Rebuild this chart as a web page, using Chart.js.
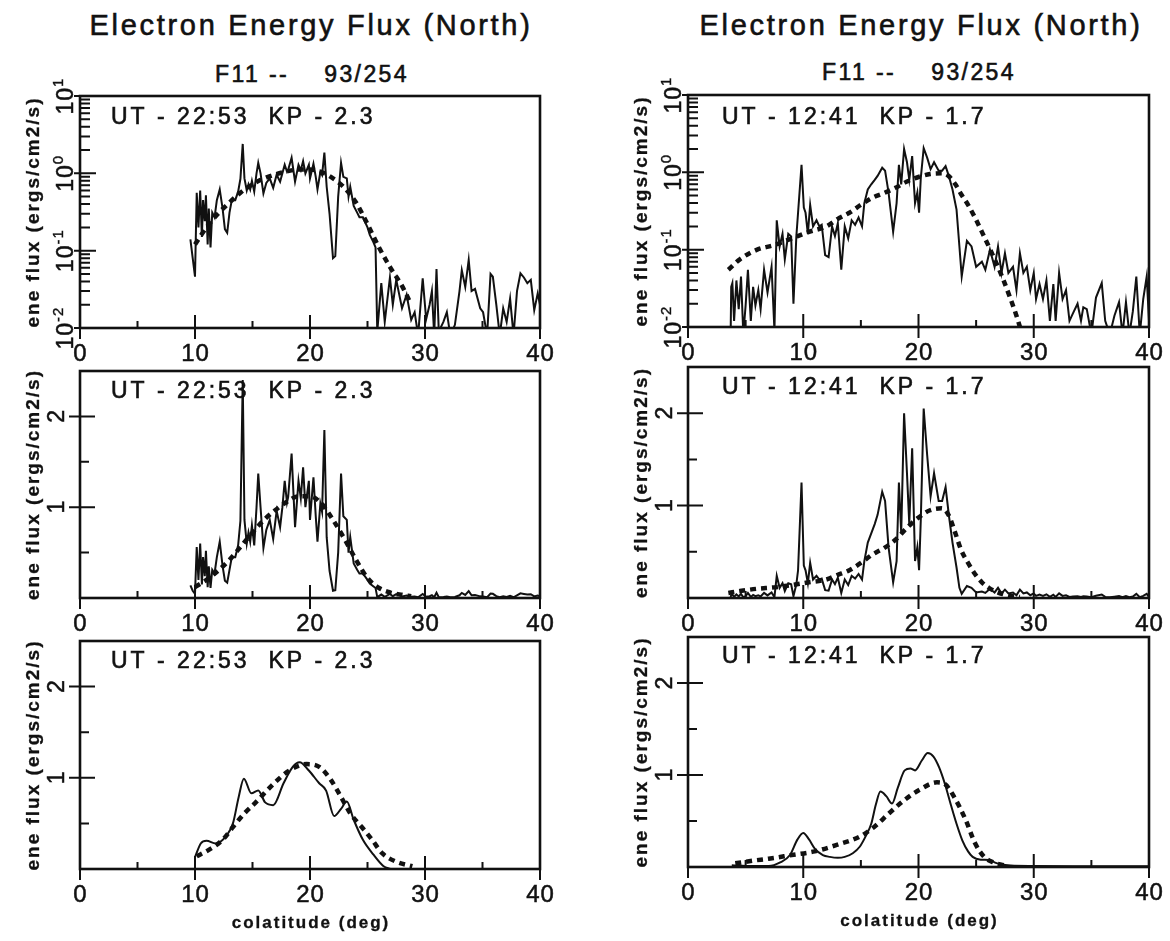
<!DOCTYPE html>
<html>
<head>
<meta charset="utf-8">
<script src="https://cdn.jsdelivr.net/npm/chart.js@4.4.0/dist/chart.umd.min.js"></script>
<style>
body { margin: 0; background: #fff; }
#page { position: relative; width: 1170px; height: 941px; overflow: hidden; }
#page canvas { position: absolute; left: 0; top: 0; }
.ttl { position: absolute; transform: translate(-50%, -50%); white-space: pre; font-family: 'Liberation Sans', Arial, sans-serif; color: #111; -webkit-text-stroke: 0.6px #111; }
.main { font-size: 29px; letter-spacing: 2.7px; }
.sub { font-size: 23px; letter-spacing: 2.4px; }
</style>
</head>
<body>
<div id="page">
  <div class="ttl main" style="left:311px;top:25px">Electron Energy Flux (North)</div>
  <div class="ttl main" style="left:921px;top:25px">Electron Energy Flux (North)</div>
  <div class="ttl sub" style="left:312px;top:74px">F11 --    93/254</div>
  <div class="ttl sub" style="left:919px;top:72px">F11 --    93/254</div>
</div>
<script>
// axis ticks
const xTicks = [0, 10, 20, 30, 40];
const xTickLabels = ['0', '10', '20', '30', '40'];
const xMinor = [5, 15, 25, 35];
const logTicks = [0.01, 0.1, 1, 10];
const logTickExp = ['-2', '-1', '0', '1'];
const linTicks = [1, 2];
const linTickLabels = ['1', '2'];
const linMinor = [0.5, 1.5];

// 22:53 pass - measured flux (top and middle panels)
const leftColat = [9.6, 9.8, 10.0, 10.15, 10.3, 10.45, 10.6, 10.7, 10.85, 10.95, 11.1, 11.2, 11.35, 11.5, 11.7, 11.9,
  12.15, 12.4, 12.6, 12.8, 13.0, 13.2, 13.5, 13.75, 13.95, 14.15, 14.3, 14.5, 14.65, 14.8, 14.95, 15.15, 15.35, 15.5,
  15.7, 15.95, 16.2, 16.5, 16.8, 17.1, 17.4, 17.6, 17.8, 18.0, 18.1, 18.4, 18.7, 19.0, 19.2, 19.4, 19.6, 19.9, 20.0,
  20.3, 20.5, 20.65, 20.9, 21.05, 21.25, 21.45, 21.7, 22.0, 22.2, 22.45, 22.7, 22.9, 23.2, 23.35, 23.5, 23.8, 24.1,
  24.3, 24.6, 25.0, 25.2, 25.5, 25.7, 25.85, 26.2, 26.5, 26.95, 27.2, 27.5, 28.0, 28.4, 28.8, 29.1, 29.4, 29.8, 30.1,
  30.4, 30.6, 30.8, 31.0, 31.2, 31.6, 31.9, 32.2, 32.6, 33.0, 33.2, 33.5, 33.8, 34.05, 34.35, 34.8, 35.05, 35.4, 35.7,
  35.9, 36.2, 36.5, 36.8, 37.1, 37.4, 37.7, 38.0, 38.3, 38.6, 38.9, 39.2, 39.5, 39.8, 40.0];
const leftFlux = [0.14, 0.08, 0.046, 0.56, 0.2, 0.6, 0.15, 0.45, 0.24, 0.52, 0.12, 0.35, 0.11, 0.31, 0.27, 0.45,
  0.62, 0.35, 0.19, 0.17, 0.31, 0.45, 0.45, 0.58, 0.85, 2.4, 0.86, 0.6, 0.72, 0.62, 0.8, 0.58, 1.0, 1.37,
  1.0, 0.55, 0.75, 0.86, 0.65, 0.96, 0.78, 1.0, 1.29, 1.05, 1.11, 1.59, 0.78, 1.29, 1.1, 1.44, 1.0, 1.29, 0.86,
  1.33, 0.9, 0.62, 1.04, 0.95, 1.85, 0.67, 0.3, 0.08, 0.085, 0.5, 1.37, 0.9, 0.86, 0.5, 0.67, 0.38, 0.31,
  0.27, 0.27, 0.2, 0.16, 0.13, 0.11, 0.009, 0.038, 0.012, 0.045, 0.02, 0.042, 0.018, 0.027, 0.0127, 0.016, 0.008, 0.044, 0.013,
  0.02, 0.03, 0.008, 0.058, 0.009, 0.012, 0.016, 0.008, 0.011, 0.03, 0.056, 0.034, 0.076, 0.03, 0.032, 0.018, 0.016, 0.008, 0.05,
  0.046, 0.02, 0.008, 0.018, 0.012, 0.024, 0.008, 0.03, 0.051, 0.045, 0.038, 0.042, 0.017, 0.028, 0.02];
const leftFitColat = [10, 11, 12, 13, 14, 15, 16, 17, 18, 19, 20, 21, 22, 23, 24, 25, 26, 27, 28, 28.8];
const leftFitFlux = [0.12, 0.2, 0.3, 0.42, 0.57, 0.72, 0.86, 0.97, 1.06, 1.12, 1.12, 1.04, 0.86, 0.65, 0.42, 0.22,
  0.11, 0.06, 0.035, 0.02];

// 22:53 pass - smoothed (bottom panel)
const leftSmoothColat = [10.0, 10.5, 11.0, 11.8, 12.7, 13.3, 13.8, 14.25, 14.9, 15.5, 16.1, 16.8, 17.7, 18.5, 19.1,
  19.9, 20.8, 21.4, 22.1, 22.7, 23.2, 23.8, 24.6, 25.5, 26.4, 27.0];
const leftSmoothFlux = [0.13, 0.28, 0.31, 0.28, 0.36, 0.5, 0.79, 0.99, 0.83, 0.86, 0.73, 0.7, 0.94, 1.12, 1.17,
  1.08, 0.94, 0.86, 0.58, 0.66, 0.74, 0.54, 0.32, 0.16, 0.03, 0.0];
const leftSmoothFitColat = [10.15, 11.2, 12.4, 13.3, 14.3, 15.2, 16.8, 18.2, 19.7, 20.8, 21.8, 22.7, 23.5, 24.5, 25.4,
  26.3, 27.5, 28.9];
const leftSmoothFitFlux = [0.14, 0.21, 0.32, 0.46, 0.61, 0.72, 0.93, 1.08, 1.15, 1.12, 0.98, 0.79, 0.61, 0.46, 0.32,
  0.17, 0.08, 0.03];

// 12:41 pass - measured flux (top and middle panels)
const rightColat = [3.7, 3.75, 3.85, 4.0, 4.2, 4.4, 4.6, 4.8, 5.0, 5.2, 5.45, 5.65, 5.85, 6.1, 6.3, 6.6, 6.9, 7.25,
  7.5, 7.7, 7.95, 8.2, 8.4, 8.7, 8.95, 9.15, 9.4, 9.55, 9.85, 10.05, 10.2, 10.4, 10.6, 10.85, 11.15, 11.4, 11.6, 11.9,
  12.2, 12.5, 12.75, 13.0, 13.3, 13.6, 13.9, 14.2, 14.5, 14.8, 15.1, 15.3, 15.6, 15.9, 16.2, 16.45, 16.85, 17.1, 17.4,
  17.8, 18.1, 18.3, 18.5, 18.75, 19.0, 19.2, 19.45, 19.7, 19.9, 20.05, 20.2, 20.45, 20.75, 21.05, 21.35, 21.75, 22.05,
  22.35, 22.65, 22.95, 23.3, 23.55, 23.75, 24.2, 24.6, 25.0, 25.5, 25.8, 26.2, 26.6, 26.9, 27.2, 27.5, 27.8, 28.2,
  28.5, 28.8, 29.1, 29.4, 29.7, 30.0, 30.2, 30.5, 30.8, 31.1, 31.4, 31.7, 31.9, 32.2, 32.5, 32.8, 33.1, 33.4, 33.8,
  34.1, 34.3, 34.6, 35.0, 35.4, 35.9, 36.2, 36.6, 37.0, 37.4, 37.7, 38.0, 38.3, 38.6, 38.9, 39.2, 39.5, 39.8, 40.0];
const rightFlux = [0.008, 0.033, 0.037, 0.012, 0.04, 0.017, 0.045, 0.008, 0.019, 0.055, 0.012, 0.033, 0.019, 0.03, 0.017, 0.055, 0.028, 0.06,
  0.009, 0.24, 0.11, 0.16, 0.075, 0.16, 0.148, 0.02, 0.148, 0.3, 1.25, 0.35, 0.3, 0.16, 0.38, 0.2, 0.24, 0.2, 0.21, 0.085,
  0.08, 0.2, 0.15, 0.22, 0.055, 0.2, 0.14, 0.24, 0.21, 0.26, 0.2, 0.4, 0.6, 0.7, 0.8, 0.9, 1.15, 1.05, 0.55,
  0.17, 0.4, 1.25, 0.7, 2.0, 1.35, 0.8, 1.62, 0.4, 0.55, 0.3, 0.85, 2.05, 1.55, 1.1, 1.35, 1.05, 1.05,
  1.2, 0.88, 0.6, 0.33, 0.11, 0.045, 0.13, 0.11, 0.06, 0.07, 0.055, 0.1, 0.06, 0.11, 0.05, 0.09, 0.05, 0.06,
  0.03, 0.09, 0.05, 0.06, 0.03, 0.05, 0.023, 0.036, 0.023, 0.04, 0.012, 0.036, 0.012, 0.05, 0.023, 0.03, 0.012, 0.015, 0.02,
  0.012, 0.018, 0.017, 0.008, 0.024, 0.037, 0.012, 0.008, 0.014, 0.021, 0.008, 0.021, 0.008, 0.016, 0.045, 0.008, 0.023, 0.045, 0.012];
const rightFitColat = [3.5, 4.5, 6, 7.5, 9, 10.5, 12, 13, 14, 15, 16, 17, 18, 19, 20, 21, 22, 22.6, 23.2, 23.7, 24.3,
  24.9, 25.5, 26.1, 26.7, 27.3, 27.9, 28.5, 28.8];
const rightFitFlux = [0.055, 0.075, 0.1, 0.115, 0.14, 0.17, 0.2, 0.25, 0.3, 0.38, 0.47, 0.54, 0.63, 0.76, 0.87, 0.95,
  0.97, 0.9, 0.7, 0.52, 0.38, 0.26, 0.17, 0.11, 0.07, 0.043, 0.025, 0.014, 0.01];

// 12:41 pass - smoothed (bottom panel)
const rightSmoothColat = [3.8, 5.5, 7.0, 8.0, 8.85, 9.5, 10.0, 10.5, 11.0, 11.7, 12.3, 13.0, 13.6, 14.3, 14.9, 15.4,
  15.9, 16.3, 16.7, 17.2, 17.7, 18.2, 18.8, 19.3, 19.7, 20.3, 20.8, 21.3, 21.8, 22.3, 22.8, 23.3, 23.8, 24.3, 24.7,
  25.4, 26.1, 26.6, 27.1, 28, 30, 35, 40];
const rightSmoothFlux = [0.02, 0.01, 0.01, 0.05, 0.13, 0.3, 0.37, 0.3, 0.2, 0.13, 0.11, 0.1, 0.11, 0.15, 0.22, 0.33,
  0.47, 0.68, 0.82, 0.77, 0.69, 0.86, 1.05, 1.07, 1.05, 1.16, 1.24, 1.2, 1.08, 0.9, 0.68, 0.47, 0.29, 0.17, 0.11,
  0.08, 0.075, 0.05, 0.03, 0.015, 0.01, 0.008, 0.008];
const rightSmoothFitColat = [4.1, 5.7, 7.0, 9.0, 11.0, 12.9, 14.9, 16.2, 17.5, 18.8, 20.1, 21.6, 22.3, 23.1, 24.1,
  24.9, 25.7, 26.5, 27.4];
const rightSmoothFitFlux = [0.04, 0.07, 0.09, 0.13, 0.17, 0.24, 0.33, 0.44, 0.59, 0.73, 0.84, 0.92, 0.9, 0.76, 0.51,
  0.26, 0.11, 0.05, 0.02];

const noteLeft = 'UT - 22:53  KP - 2.3';
const noteRight = 'UT - 12:41  KP - 1.7';

const FONT = "'Liberation Sans', Arial, sans-serif";
const INK = '#111';

const panels = [
  { box: [80, 96, 540, 328], log: true, x: leftColat, y: leftFlux, fx: leftFitColat, fy: leftFitFlux, note: noteLeft, nx: 31, ny: 22 },
  { box: [80, 371, 540, 598], log: false, x: leftColat, y: leftFlux, fx: leftFitColat, fy: leftFitFlux, note: noteLeft, nx: 31, ny: 21 },
  { box: [80, 641, 540, 869], log: false, smooth: true, x: leftSmoothColat, y: leftSmoothFlux, fx: leftSmoothFitColat, fy: leftSmoothFitFlux, note: noteLeft, nx: 31, ny: 21, xTitle: true },
  { box: [688, 95, 1149, 327], log: true, x: rightColat, y: rightFlux, fx: rightFitColat, fy: rightFitFlux, note: noteRight, nx: 34, ny: 23 },
  { box: [688, 367, 1149, 598], log: false, x: rightColat, y: rightFlux, fx: rightFitColat, fy: rightFitFlux, note: noteRight, nx: 34, ny: 21 },
  { box: [688, 637, 1149, 867], log: false, smooth: true, x: rightSmoothColat, y: rightSmoothFlux, fx: rightSmoothFitColat, fy: rightSmoothFitFlux, note: noteRight, nx: 34, ny: 20, xTitle: true }
];

function toPoints(xs, ys) {
  return xs.map((x, i) => ({ x: x, y: ys[i] }));
}

// filled text with a thin outline, closer to the scanned weight
function inkText(ctx, text, x, y, weight) {
  ctx.fillText(text, x, y);
  ctx.lineWidth = weight === undefined ? 0.6 : weight;
  ctx.strokeText(text, x, y);
}

// rotated text, reading upwards, baseline on the right
function rotText(ctx, text, x, y, font, spacing, weight) {
  ctx.save();
  ctx.translate(x, y);
  ctx.rotate(-Math.PI / 2);
  ctx.font = font;
  ctx.letterSpacing = spacing || '0px';
  ctx.textAlign = 'center';
  inkText(ctx, text, 0, 0, weight);
  ctx.restore();
}

// box, inside ticks, labels and notes of one panel
function drawFrame(chart, p) {
  const ctx = chart.ctx, a = chart.chartArea;
  const xs = chart.scales.x, ys = chart.scales.y;
  ctx.save();
  ctx.strokeStyle = INK;
  ctx.fillStyle = INK;
  ctx.lineWidth = 2.6;
  ctx.strokeRect(a.left, a.top, a.right - a.left, a.bottom - a.top);

  ctx.lineWidth = 2;
  ctx.beginPath();
  xTicks.forEach(v => {
    const x = xs.getPixelForValue(v);
    ctx.moveTo(x, a.bottom + 11);
    ctx.lineTo(x, a.bottom - 13);
  });
  xMinor.forEach(v => {
    const x = xs.getPixelForValue(v);
    ctx.moveTo(x, a.bottom);
    ctx.lineTo(x, a.bottom - 7);
  });
  if (p.log) {
    logTicks.forEach(v => {
      const y = ys.getPixelForValue(v);
      ctx.moveTo(a.left - 6, y);
      ctx.lineTo(a.left + 16, y);
    });
    [0.01, 0.1, 1].forEach(d => {
      for (let m = 2; m <= 9; m++) {
        const y = ys.getPixelForValue(m * d);
        ctx.moveTo(a.left, y);
        ctx.lineTo(a.left + 10, y);
      }
    });
  } else {
    linTicks.forEach(v => {
      const y = ys.getPixelForValue(v);
      ctx.moveTo(a.left - 11, y);
      ctx.lineTo(a.left + 15, y);
    });
    linMinor.forEach(v => {
      const y = ys.getPixelForValue(v);
      ctx.moveTo(a.left, y);
      ctx.lineTo(a.left + 9, y);
    });
  }
  ctx.stroke();

  // x tick labels
  ctx.font = '24px ' + FONT;
  ctx.letterSpacing = '1px';
  ctx.textAlign = 'center';
  ctx.textBaseline = 'middle';
  xTicks.forEach((v, i) => {
    inkText(ctx, xTickLabels[i], xs.getPixelForValue(v) + 0.5, a.bottom + 26, 0.5);
  });

  // y tick labels, rotated
  ctx.textBaseline = 'alphabetic';
  if (p.log) {
    logTicks.forEach((v, i) => {
      const y = ys.getPixelForValue(v);
      ctx.save();
      ctx.translate(a.left - 7, y);
      ctx.rotate(-Math.PI / 2);
      ctx.letterSpacing = '1px';
      ctx.font = '23px ' + FONT;
      const wb = ctx.measureText('10').width;
      ctx.font = '15px ' + FONT;
      const we = ctx.measureText(logTickExp[i]).width;
      const x0 = -(wb + we) / 2;
      ctx.textAlign = 'left';
      ctx.font = '23px ' + FONT;
      inkText(ctx, '10', x0, 0, 0.5);
      ctx.font = '15px ' + FONT;
      inkText(ctx, logTickExp[i], x0 + wb, -10, 0.4);
      ctx.restore();
    });
  } else {
    linTicks.forEach((v, i) => {
      rotText(ctx, linTickLabels[i], a.left - 16, ys.getPixelForValue(v), '23px ' + FONT, '0px', 0.5);
    });
  }

  // y title
  ctx.textBaseline = 'middle';
  rotText(ctx, 'ene flux (ergs/cm2/s)', a.left - 46, (a.top + a.bottom) / 2, 'bold 19px ' + FONT, '2px', 0.3);

  // x title
  if (p.xTitle) {
    ctx.font = 'bold 17px ' + FONT;
    ctx.letterSpacing = '2px';
    ctx.textAlign = 'center';
    inkText(ctx, 'colatitude (deg)', (a.left + a.right) / 2 + 1, a.bottom + 54, 0.3);
  }

  // pass note
  ctx.font = '23px ' + FONT;
  ctx.letterSpacing = '3px';
  ctx.textAlign = 'left';
  ctx.textBaseline = 'middle';
  inkText(ctx, p.note, a.left + p.nx, a.top + p.ny, 0.6);
  ctx.restore();
}

function makePanel(p) {
  const cv = document.createElement('canvas');
  cv.width = 1170;
  cv.height = 941;
  document.getElementById('page').appendChild(cv);
  new Chart(cv, {
    type: 'line',
    data: {
      datasets: [
        {
          data: toPoints(p.x, p.y),
          borderColor: INK,
          borderWidth: 2,
          pointRadius: 0,
          tension: p.smooth ? 0.4 : 0,
          cubicInterpolationMode: p.smooth ? 'monotone' : 'default'
        },
        {
          data: toPoints(p.fx, p.fy),
          borderColor: INK,
          borderWidth: 4.5,
          borderDash: [6, 5],
          pointRadius: 0,
          cubicInterpolationMode: 'monotone'
        }
      ]
    },
    options: {
      responsive: false,
      animation: false,
      events: [],
      layout: { padding: { left: p.box[0], top: p.box[1], right: 1170 - p.box[2], bottom: 941 - p.box[3] } },
      plugins: { legend: { display: false }, tooltip: { enabled: false } },
      scales: {
        x: { type: 'linear', min: 0, max: 40, display: false },
        y: p.log
          ? { type: 'logarithmic', min: 0.01, max: 10, display: false }
          : { type: 'linear', min: 0, max: 2.5, display: false }
      }
    },
    plugins: [{ id: 'frame', afterDraw: chart => drawFrame(chart, p) }]
  });
}

panels.forEach(makePanel);
</script>
</body>
</html>
